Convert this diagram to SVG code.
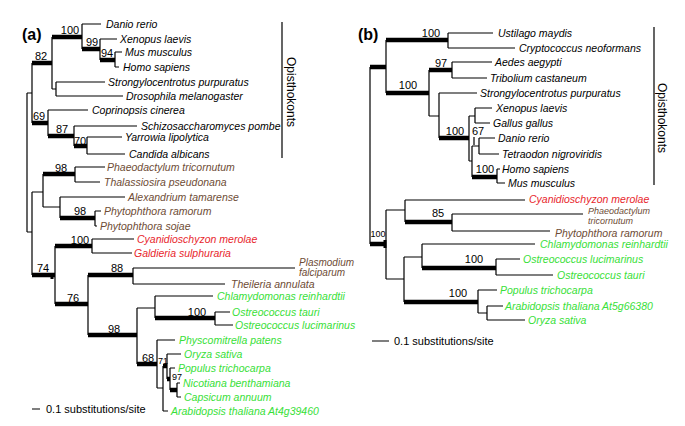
<svg xmlns="http://www.w3.org/2000/svg" width="685" height="426" viewBox="0 0 685 426">
<style>
.t{stroke:#000;stroke-width:1.2;fill:none}
.k{stroke:#000;stroke-width:4.5;fill:none}
.sp{font-family:"Liberation Sans",Arial,sans-serif;font-style:italic;font-size:10.5px;fill:#000}
.br{fill:#6e4c35}
.rd{fill:#e8262c}
.gr{fill:#38e038}
.n{font-family:"Liberation Sans",Arial,sans-serif;font-size:11px;fill:#000;text-anchor:middle}
.s{font-family:"Liberation Sans",Arial,sans-serif;font-size:9px;fill:#000;text-anchor:middle}
.pl{font-family:"Liberation Sans",Arial,sans-serif;font-weight:bold;font-size:16px;fill:#000}
.op{font-family:"Liberation Sans",Arial,sans-serif;font-size:12px;fill:#000;text-anchor:middle}
.sc{font-family:"Liberation Sans",Arial,sans-serif;font-size:11px;fill:#000}
.two{font-size:10px}
.two2{font-size:9px}
</style>
<rect width="685" height="426" fill="#fff"/>
<g id="connectors">
<path class="t" d="M27,93V232M27,93H32M27,232H32M32,63V123M82,24V49M82,24H101M100,39V60M100,39H117M115,52V67M115,52H122M115,67H119M52,37V89M52,89H56M56,82V96M56,82H105M56,96H123M48,110V136M48,110H88M74,126V146M74,126H137M87,137V154M87,137H122M87,154H125M32,192V275M32,192H43M43,174V207M75,167V182M75,167H105M75,182H100M43,207H60M60,197V218M60,197H125M95,211V226M95,211H101M95,226H97M55,246V304M92,239V253M92,239H134M92,253H132M88,275V335M133,268V284M133,268H295M133,284H225M137,308V364M137,308H155M155,296V318M155,296H213M215,312V325M215,312H230M215,325H233M157,340V388M157,340H175M157,388H163M163,366V411M163,411H168M167,354V379M167,354H181M170,368V390M170,368H175M177,383V397M177,383H180M177,397H181"/>
<path class="k" d="M52,37H82M82,49H100M100,60H115M32,63H52M32,123H48M48,136H74M74,146H87M43,174H75M60,218H95M55,246H92M32,275H55M88,275H133M55,304H88M88,335H137M155,318H215M137,364H157M163,366H167M167,379H170M170,390H177"/>
<path class="k" d="M52,273V279" style="stroke-width:3"/>
<path class="t" d="M370,67V244M386,40V93M448,33V48M448,33H493M448,48H515M429,70V116M452,62V78M452,62H492M452,78H487M429,116H439M439,93V138M439,93H477M469,116V161M469,116H475M475,108V123M475,108H492M475,123H490M469,161H472M472,146V177M472,146H479M479,138V154M479,138H495M479,154H499M474,137V145M497,169V183M497,169H500M497,183H505M386,210V279M386,210H405M405,200V222M405,200H525M452,214V231M452,214H583M452,231H550M386,279H404M404,257V302M404,257H422M422,244V268M422,244H535M496,259V275M496,259H520M496,275H553M478,290V313M478,290H497M478,313H487M487,306V320M487,306H503M487,320H525"/>
<path class="k" d="M370,67H386M386,40H448M386,93H429M429,70H452M439,138H469M472,177H497M370,244H386M405,222H452M422,268H496M404,302H478"/>
<path class="k" d="M385,240V248" style="stroke-width:3"/>
<path class="t" d="M282,22V158M654,27V185M32,409H40M372,341H389"/>
</g>
<g id="labels-a">
<text class="pl" x="22" y="40">(a)</text>
<text class="n" x="70" y="34">100</text>
<text class="n" x="92" y="46">99</text>
<text class="n" x="107" y="57">94</text>
<text class="n" x="41" y="60">82</text>
<text class="n" x="39" y="120">69</text>
<text class="n" x="62" y="133">87</text>
<text class="n" x="80" y="145">70</text>
<text class="n" x="61" y="172">98</text>
<text class="n" x="80" y="215">98</text>
<text class="n" x="80" y="244">100</text>
<text class="n" x="43" y="272">74</text>
<text class="n" x="117" y="272">88</text>
<text class="n" x="73" y="302">76</text>
<text class="n" x="114" y="333">98</text>
<text class="n" x="197" y="316">100</text>
<text class="n" x="148" y="362">68</text>
<text class="s" x="163" y="364">71</text>
<text class="s" x="177" y="380">97</text>
</g>
<g id="leaves-a" class="sp">
<text x="106" y="28">Danio rerio</text>
<text x="120" y="43">Xenopus laevis</text>
<text x="125" y="56">Mus musculus</text>
<text x="123" y="71">Homo sapiens</text>
<text x="108" y="86">Strongylocentrotus purpuratus</text>
<text x="126" y="100">Drosophila melanogaster</text>
<text x="92" y="114">Coprinopsis cinerea</text>
<text x="141" y="130">Schizosaccharomyces pombe</text>
<text x="125" y="141">Yarrowia lipolytica</text>
<text x="129" y="158">Candida albicans</text>
<g class="br">
<text x="107" y="171">Phaeodactylum tricornutum</text>
<text x="104" y="186">Thalassiosira pseudonana</text>
<text x="128" y="201">Alexandrium tamarense</text>
<text x="104" y="215">Phytophthora ramorum</text>
<text x="100" y="230">Phytophthora sojae</text>
<text class="two" x="299" y="266">Plasmodium<tspan x="299" dy="9.5">falciparum</tspan></text>
<text x="231" y="288">Theileria annulata</text>
</g>
<g class="rd">
<text x="137" y="243">Cyanidioschyzon merolae</text>
<text x="134" y="257">Galdieria sulphuraria</text>
</g>
<g class="gr">
<text x="217" y="300">Chlamydomonas reinhardtii</text>
<text x="232" y="316">Ostreococcus tauri</text>
<text x="235" y="329">Ostreococcus lucimarinus</text>
<text x="179" y="344">Physcomitrella patens</text>
<text x="184" y="358">Oryza sativa</text>
<text x="178" y="372">Populus trichocarpa</text>
<text x="183" y="387">Nicotiana benthamiana</text>
<text x="184" y="401">Capsicum annuum</text>
<text x="171" y="415">Arabidopsis thaliana At4g39460</text>
</g>
</g>
<g id="clade-a"><text class="op" transform="translate(287,92) rotate(90)">Opisthokonts</text></g>
<g id="scale-a"><text class="sc" x="46" y="413">0.1 substitutions/site</text></g>
<g id="labels-b">
<text class="pl" x="358" y="40">(b)</text>
<text class="n" x="431" y="37">100</text>
<text class="n" x="408" y="89">100</text>
<text class="n" x="441" y="67">97</text>
<text class="n" x="455" y="135">100</text>
<text class="n" x="478" y="135">67</text>
<text class="n" x="485" y="173">100</text>
<text class="s" x="378" y="237">100</text>
<text class="n" x="438" y="217">85</text>
<text class="n" x="474" y="263">100</text>
<text class="n" x="458" y="297">100</text>
</g>
<g id="leaves-b" class="sp">
<text x="498" y="37">Ustilago maydis</text>
<text x="519" y="52">Cryptococcus neoformans</text>
<text x="495" y="66">Aedes aegypti</text>
<text x="490" y="82">Tribolium castaneum</text>
<text x="480" y="97">Strongylocentrotus purpuratus</text>
<text x="496" y="112">Xenopus laevis</text>
<text x="493" y="127">Gallus gallus</text>
<text x="498" y="142">Danio rerio</text>
<text x="502" y="158">Tetraodon nigroviridis</text>
<text x="502" y="173">Homo sapiens</text>
<text x="508" y="187">Mus musculus</text>
<text class="rd" x="529" y="203">Cyanidioschyzon merolae</text>
<g class="br">
<text class="two2" x="588" y="214">Phaeodactylum<tspan x="588" dy="10">tricornutum</tspan></text>
<text x="555" y="236.5">Phytophthora ramorum</text>
</g>
<g class="gr">
<text x="540" y="248">Chlamydomonas reinhardtii</text>
<text x="523" y="263">Ostreococcus lucimarinus</text>
<text x="557" y="279">Ostreococcus tauri</text>
<text x="500" y="294">Populus trichocarpa</text>
<text x="505" y="310">Arabidopsis thaliana At5g66380</text>
<text x="528" y="324">Oryza sativa</text>
</g>
</g>
<g id="clade-b"><text class="op" transform="translate(658,118) rotate(90)">Opisthokonts</text></g>
<g id="scale-b"><text class="sc" x="394" y="345">0.1 substitutions/site</text></g>
</svg>
